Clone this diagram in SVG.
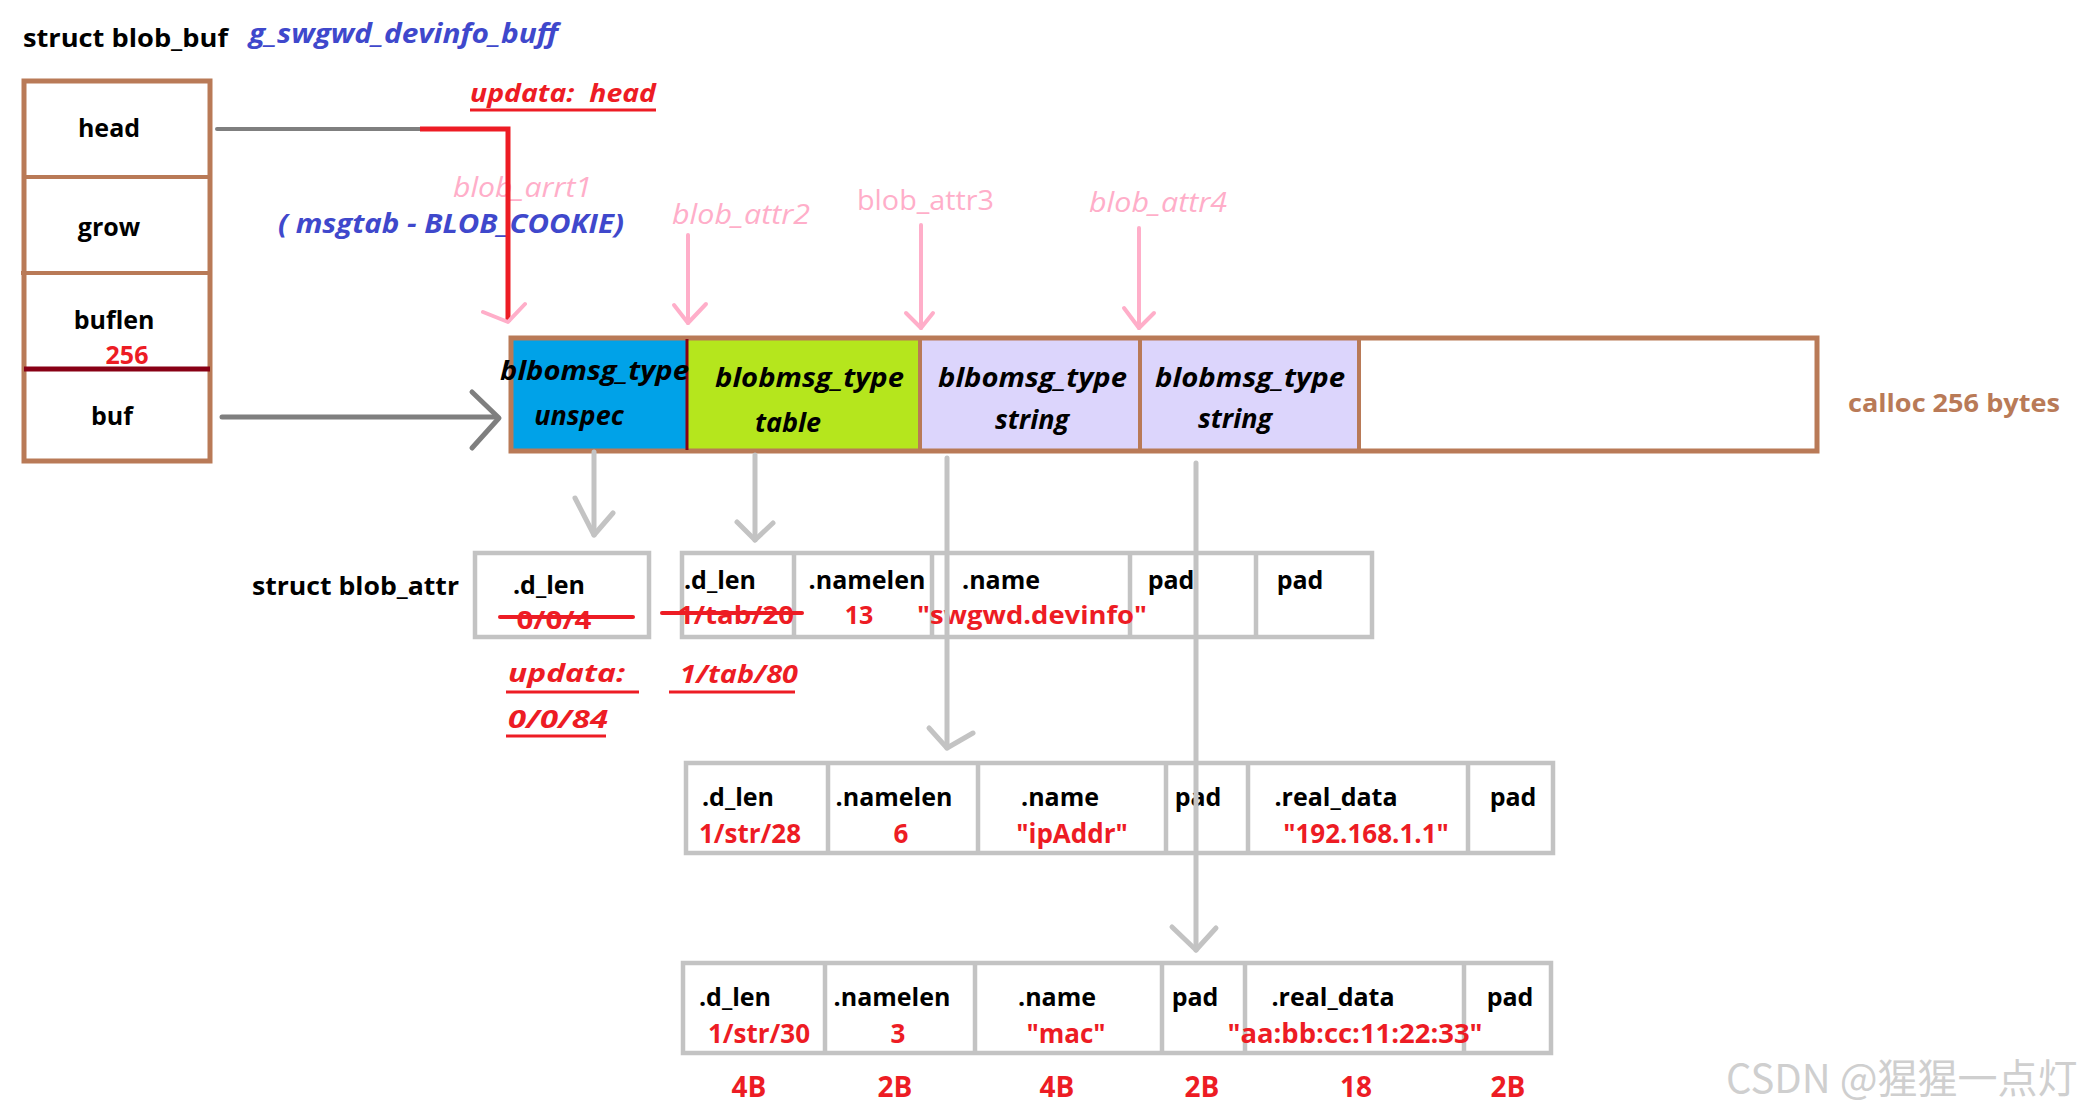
<svg xmlns="http://www.w3.org/2000/svg" width="2082" height="1116" viewBox="0 0 2082 1116">
<style>
text{font-family:"Open Sans","Noto Sans","Liberation Sans",sans-serif;font-weight:bold;font-size:25px;fill:#000}
.r{fill:#ED1C24}
.rv{fill:#ED1C24;font-size:26px}
.rs{fill:#ED1C24;font-size:25px}
.it{font-style:italic}
.pk{fill:#FFAEC9;font-weight:normal;font-size:28px;font-style:italic}
.up{font-style:normal}
.bl{fill:#3F48CC;font-style:italic;font-size:26px}
.br{fill:#B97A57}
.m{text-anchor:middle}
.cell{font-size:27px;font-style:italic}
.sz{fill:#ED1C24;font-size:28px;text-anchor:middle}
.bx{fill:none;stroke:#B97A57;stroke-width:5}
.bxl{stroke:#B97A57;stroke-width:4}
.gb{fill:none;stroke:#C3C3C3;stroke-width:4.5}
.gl{stroke:#C3C3C3;stroke-width:4.5}
.st{stroke:#ED1C24;stroke-width:4;stroke-linecap:round}
.ul{stroke:#ED1C24;stroke-width:3}
.pa{fill:none;stroke:#FFAEC9;stroke-width:4;stroke-linecap:round;stroke-linejoin:round}
.ga{fill:none;stroke:#C3C3C3;stroke-width:5;stroke-linecap:round;stroke-linejoin:round}
.dk{fill:none;stroke:#7F7F7F;stroke-width:5;stroke-linecap:round;stroke-linejoin:round}
.rd{fill:none;stroke:#ED1C24;stroke-width:5;stroke-linejoin:miter}
.wm{font-family:"Noto Sans CJK SC","Noto Sans",sans-serif;font-weight:normal;font-size:40px;fill:#CFCFCF}
</style>
<rect width="2082" height="1116" fill="#fff"/>

<g id="title">
<text x="23" y="47" font-size="26" textLength="205" lengthAdjust="spacingAndGlyphs">struct blob_buf</text>
<text x="249" y="43" class="bl" textLength="309" lengthAdjust="spacingAndGlyphs">g_swgwd_devinfo_buff</text>
</g>

<g id="blob_buf">
<rect x="24" y="81" width="186" height="380" class="bx"/>
<line x1="24" y1="177" x2="210" y2="177" class="bxl"/>
<line x1="21" y1="273" x2="210" y2="273" class="bxl"/>
<line x1="24" y1="369" x2="210" y2="369" stroke="#880015" stroke-width="5"/>
<text x="109" y="137" class="m" font-size="27">head</text>
<text x="109" y="236" class="m" font-size="27">grow</text>
<text x="114" y="329" class="m" font-size="27">buflen</text>
<text x="127" y="364" class="m r" font-size="25">256</text>
<text x="112" y="425" class="m" font-size="27">buf</text>
</g>

<g id="labels">
<text x="470" y="102" class="r it" font-size="26" textLength="186" lengthAdjust="spacingAndGlyphs">updata:&#160; head</text>
<line x1="470" y1="110" x2="656" y2="110" class="ul"/>
<text x="453" y="197" class="pk" textLength="139" lengthAdjust="spacingAndGlyphs">blob_arrt1</text>
<text x="278" y="233" class="bl" textLength="346" lengthAdjust="spacingAndGlyphs">( msgtab - BLOB_COOKIE)</text>
<text x="672" y="224" class="pk" textLength="138" lengthAdjust="spacingAndGlyphs">blob_attr2</text>
<text x="857" y="210" class="pk up" textLength="137" lengthAdjust="spacingAndGlyphs">blob_attr3</text>
<text x="1089" y="212" class="pk" textLength="138" lengthAdjust="spacingAndGlyphs">blob_attr4</text>
<text x="1848" y="412" class="br" font-size="27" textLength="212" lengthAdjust="spacingAndGlyphs">calloc 256 bytes</text>
</g>

<g id="buffer">
<rect x="511" y="338" width="176" height="113" fill="#00A2E8"/>
<rect x="687" y="338" width="233" height="113" fill="#B5E61D"/>
<rect x="920" y="338" width="220" height="113" fill="#DCD5FC"/>
<rect x="1140" y="338" width="219" height="113" fill="#DCD5FC"/>
<rect x="511" y="338" width="1306" height="113" class="bx"/>
<line x1="687" y1="339" x2="687" y2="450" stroke="#880015" stroke-width="3"/>
<line x1="920" y1="338" x2="920" y2="451" class="bxl"/>
<line x1="1140" y1="338" x2="1140" y2="451" class="bxl"/>
<line x1="1359" y1="338" x2="1359" y2="451" class="bxl"/>
<text x="500" y="380" class="cell" textLength="189" lengthAdjust="spacingAndGlyphs">blbomsg_type</text>
<text x="579" y="425" class="m cell">unspec</text>
<text x="715" y="387" class="cell" textLength="189" lengthAdjust="spacingAndGlyphs">blobmsg_type</text>
<text x="788" y="432" class="m cell">table</text>
<text x="938" y="387" class="cell" textLength="189" lengthAdjust="spacingAndGlyphs">blbomsg_type</text>
<text x="1032" y="429" class="m cell">string</text>
<text x="1155" y="387" class="cell" textLength="190" lengthAdjust="spacingAndGlyphs">blobmsg_type</text>
<text x="1235" y="428" class="m cell">string</text>
</g>

<g id="attr1">
<text x="252" y="595" font-size="26" textLength="207" lengthAdjust="spacingAndGlyphs">struct blob_attr</text>
<rect x="475" y="553" width="174" height="84" class="gb"/>
<text x="549" y="594" class="m">.d_len</text>
<text x="554" y="629" class="m rs" textLength="75" lengthAdjust="spacingAndGlyphs">0/0/4</text>
<line x1="500" y1="617" x2="633" y2="617" class="st"/>
<text x="508" y="682" class="r it" font-size="28" textLength="117" lengthAdjust="spacingAndGlyphs">updata:</text>
<line x1="506" y1="692" x2="639" y2="692" class="ul"/>
<text x="508" y="728" class="r it" font-size="28" textLength="100" lengthAdjust="spacingAndGlyphs">0/0/84</text>
<line x1="506" y1="736" x2="606" y2="736" class="ul"/>
</g>

<g id="attr2">
<rect x="682" y="553" width="690" height="84" class="gb"/>
<line x1="794" y1="553" x2="794" y2="637" class="gl"/>
<line x1="932" y1="553" x2="932" y2="637" class="gl"/>
<line x1="1130" y1="553" x2="1130" y2="637" class="gl"/>
<line x1="1256" y1="553" x2="1256" y2="637" class="gl"/>
<text x="720" y="589" class="m">.d_len</text>
<text x="736" y="624" class="m rs" textLength="116" lengthAdjust="spacingAndGlyphs">1/tab/20</text>
<line x1="662" y1="613" x2="802" y2="613" class="st"/>
<text x="867" y="589" class="m">.namelen</text>
<text x="859" y="624" class="m rs">13</text>
<text x="1001" y="589" class="m">.name</text>
<text x="1032" y="624" class="m rs" textLength="230" lengthAdjust="spacingAndGlyphs">"swgwd.devinfo"</text>
<text x="1171" y="589" class="m">pad</text>
<text x="1300" y="589" class="m">pad</text>
<text x="680" y="683" class="r it" font-size="27" textLength="118" lengthAdjust="spacingAndGlyphs">1/tab/80</text>
<line x1="669" y1="692" x2="795" y2="692" class="ul"/>
</g>

<g id="attr3">
<rect x="686" y="763" width="867" height="90" class="gb"/>
<line x1="828" y1="763" x2="828" y2="853" class="gl"/>
<line x1="978" y1="763" x2="978" y2="853" class="gl"/>
<line x1="1166" y1="763" x2="1166" y2="853" class="gl"/>
<line x1="1248" y1="763" x2="1248" y2="853" class="gl"/>
<line x1="1468" y1="763" x2="1468" y2="853" class="gl"/>
<text x="738" y="806" class="m">.d_len</text>
<text x="750" y="843" class="m rv">1/str/28</text>
<text x="894" y="806" class="m">.namelen</text>
<text x="901" y="843" class="m rv">6</text>
<text x="1060" y="806" class="m">.name</text>
<text x="1072" y="843" class="m rv">"ipAddr"</text>
<text x="1198" y="806" class="m">pad</text>
<text x="1336" y="806" class="m">.real_data</text>
<text x="1366" y="843" class="m rv">"192.168.1.1"</text>
<text x="1513" y="806" class="m">pad</text>
</g>

<g id="attr4">
<rect x="683" y="963" width="868" height="90" class="gb"/>
<line x1="825" y1="963" x2="825" y2="1053" class="gl"/>
<line x1="975" y1="963" x2="975" y2="1053" class="gl"/>
<line x1="1162" y1="963" x2="1162" y2="1053" class="gl"/>
<line x1="1245" y1="963" x2="1245" y2="1053" class="gl"/>
<line x1="1464" y1="963" x2="1464" y2="1053" class="gl"/>
<text x="735" y="1006" class="m">.d_len</text>
<text x="759" y="1043" class="m rv">1/str/30</text>
<text x="892" y="1006" class="m">.namelen</text>
<text x="898" y="1043" class="m rv">3</text>
<text x="1057" y="1006" class="m">.name</text>
<text x="1066" y="1043" class="m rv">"mac"</text>
<text x="1195" y="1006" class="m">pad</text>
<text x="1333" y="1006" class="m">.real_data</text>
<text x="1355" y="1043" class="m rv" textLength="255" lengthAdjust="spacingAndGlyphs">"aa:bb:cc:11:22:33"</text>
<text x="1510" y="1006" class="m">pad</text>
</g>

<g id="sizes">
<text x="749" y="1097" class="sz">4B</text>
<text x="895" y="1097" class="sz">2B</text>
<text x="1057" y="1097" class="sz">4B</text>
<text x="1202" y="1097" class="sz">2B</text>
<text x="1356" y="1097" class="sz">18</text>
<text x="1508" y="1097" class="sz">2B</text>
</g>

<g id="connectors">
<line x1="217" y1="129" x2="420" y2="129" stroke="#7F7F7F" stroke-width="4" stroke-linecap="round"/>
<polyline points="420,129 508,129 508,322" class="rd"/>
<polyline points="483,312 508,322 525,304" class="pa"/>
<line x1="688" y1="235" x2="688" y2="323" class="pa"/>
<polyline points="674,305 688,323 706,304" class="pa"/>
<line x1="921" y1="225" x2="921" y2="328" class="pa"/>
<polyline points="906,313 921,328 933,313" class="pa"/>
<line x1="1139" y1="228" x2="1139" y2="328" class="pa"/>
<polyline points="1124,308 1139,328 1154,313" class="pa"/>
<line x1="222" y1="417" x2="497" y2="417" class="dk"/>
<polyline points="472,392 499,418 472,448" class="dk"/>
<line x1="594" y1="452" x2="594" y2="535" class="ga"/>
<polyline points="575,498 594,535 613,513" class="ga"/>
<line x1="755" y1="455" x2="755" y2="540" class="ga"/>
<polyline points="737,522 755,540 773,523" class="ga"/>
<line x1="947" y1="458" x2="947" y2="748" class="ga"/>
<polyline points="929,728 947,748 973,733" class="ga"/>
<line x1="1196" y1="463" x2="1196" y2="950" class="ga"/>
<polyline points="1172,927 1196,950 1216,928" class="ga"/>
</g>

<text x="1726" y="1093" class="wm">CSDN @猩猩一点灯</text>
</svg>
